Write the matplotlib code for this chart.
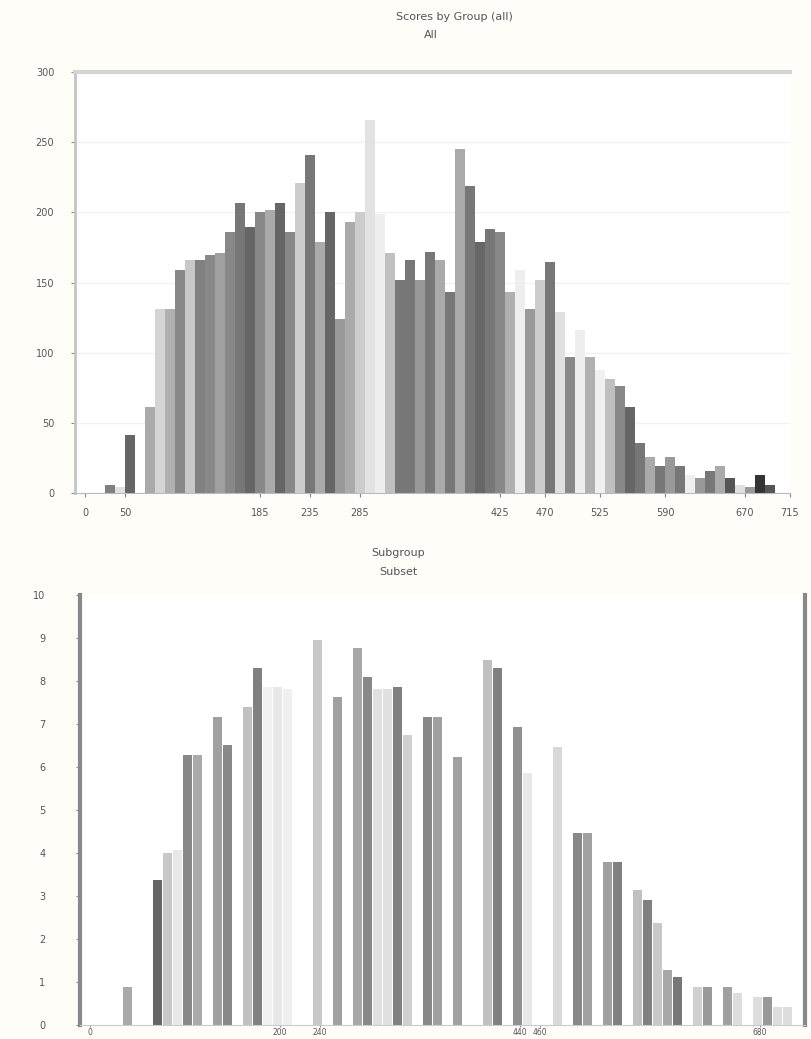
#!/usr/bin/env python3
"""Two stacked grey histograms (overall + subset)."""
import matplotlib
matplotlib.use('Agg')
import matplotlib.pyplot as plt
import numpy as np

plt.rcParams.update({
    'font.size': 8, 'font.family': ['DejaVu Sans'],
    'axes.titlesize': 8, 'xtick.labelsize': 7, 'ytick.labelsize': 7,
})

# ── data: top panel (counts per 10-unit bin, starting at bin 105) ──
top_start = 105
top_counts = [6, 4, 41, 0, 61, 131, 131, 159, 166, 166, 170, 171, 186, 207, 190,
              200, 202, 207, 186, 221, 241, 179, 200, 124, 193, 200, 266, 199,
              171, 152, 166, 152, 172, 166, 143, 245, 219, 179, 188, 186, 143,
              159, 131, 152, 165, 129, 97, 116, 97, 88, 81, 76, 61, 36, 26, 19,
              26, 19, 13, 11, 16, 19, 11, 6, 4, 13, 6]
top_shades = ['#808080', '#e0e0e0', '#666666', '#ffffff', '#aaaaaa', '#d4d4d4',
              '#b0b0b0', '#888888', '#c8c8c8', '#808080', '#888888', '#a0a0a0',
              '#888888', '#777777', '#666666', '#888888', '#aaaaaa', '#666666',
              '#888888', '#cccccc', '#777777', '#aaaaaa', '#666666', '#999999',
              '#aaaaaa', '#cccccc', '#e2e2e2', '#eeeeee', '#c0c0c0', '#777777',
              '#777777', '#999999', '#777777', '#aaaaaa', '#777777', '#aaaaaa',
              '#777777', '#666666', '#777777', '#888888', '#b0b0b0', '#eeeeee',
              '#999999', '#cccccc', '#777777', '#e0e0e0', '#888888', '#eeeeee',
              '#b0b0b0', '#f0f0f0', '#c0c0c0', '#888888', '#666666', '#777777',
              '#aaaaaa', '#777777', '#999999', '#777777', '#eeeeee', '#999999',
              '#777777', '#aaaaaa', '#555555', '#e0e0e0', '#999999', '#333333',
              '#555555']
top_yticks = [0, 50, 100, 150, 200, 250, 300]
top_xticks = [10, 50, 185, 235, 285, 425, 470, 525, 590, 670, 715]
top_xlabels = ['0', '50', '185', '235', '285', '425', '470', '525', '590', '670', '715']

# ── data: bottom panel (counts per bin, starting at bin 123) ──
bot_start = 123
bot_counts = [0.88, 0, 0, 3.37, 4.0, 4.07, 6.28, 6.28, 0, 7.16, 6.51, 0, 7.4, 8.3,
              7.86, 7.86, 7.8, 0, 0, 8.95, 0, 7.63, 0, 8.77, 8.09, 7.8, 7.8, 7.86,
              6.74, 0, 7.16, 7.16, 0, 6.23, 0, 0, 8.49, 8.3, 0, 6.93, 5.86, 0, 0,
              6.47, 0, 4.47, 4.47, 0, 3.79, 3.79, 0, 3.14, 2.9, 2.37, 1.28, 1.12,
              0, 0.88, 0.88, 0, 0.88, 0.74, 0, 0.65, 0.65, 0.42, 0.42]
bot_shades = ['#aaaaaa', '#fff', '#fff', '#666666', '#c8c8c8', '#e8e8e8', '#888888',
              '#aaaaaa', '#fff', '#a0a0a0', '#888888', '#fff', '#c0c0c0', '#808080',
              '#f0f0f0', '#e8e8e8', '#f0f0f0', '#fff', '#fff', '#c8c8c8', '#fff',
              '#a0a0a0', '#fff', '#a8a8a8', '#888888', '#e0e0e0', '#e0e0e0',
              '#808080', '#d0d0d0', '#fff', '#888888', '#a0a0a0', '#fff', '#a0a0a0',
              '#fff', '#fff', '#c0c0c0', '#808080', '#fff', '#909090', '#e8e8e8',
              '#fff', '#fff', '#d8d8d8', '#fff', '#888888', '#a0a0a0', '#fff',
              '#a0a0a0', '#808080', '#fff', '#c0c0c0', '#808080', '#c8c8c8',
              '#a8a8a8', '#777777', '#fff', '#d0d0d0', '#999999', '#fff', '#a0a0a0',
              '#dddddd', '#fff', '#dddddd', '#999999', '#dddddd', '#dddddd']
bot_yticks = list(range(0, 11))
bot_xticks = [10, 200, 240, 440, 460, 680]
bot_xlabels = ['0', '200', '240', '440', '460', '680']

fig = plt.figure(figsize=(8.12, 10.39), dpi=100, facecolor='#fffdf8')

# ═══════════════════════════════════════════════════════════
# Top panel
# ═══════════════════════════════════════════════════════════
ax1 = fig.add_axes([0.0924, 0.5255, 0.8805, 0.405])
x1 = top_start - 75 + 10 * np.arange(len(top_counts))
ax1.bar(x1, top_counts, width=10, align='edge', color=top_shades, linewidth=0)
ax1.set_xlim(0, 715)
ax1.set_ylim(0, 300)
ax1.set_yticks(top_yticks)
ax1.set_xticks(top_xticks)
ax1.set_xticklabels(top_xlabels)
ax1.grid(True, axis='y', color='#f2f2f2', lw=1)
ax1.set_axisbelow(True)
ax1.spines['right'].set_visible(False)
ax1.spines['top'].set_color('#d4d4d4')
ax1.spines['top'].set_linewidth(3)
ax1.spines['left'].set_color('#c4c4c4')
ax1.spines['left'].set_linewidth(2)
ax1.spines['bottom'].set_color('#bbbbbb')
ax1.tick_params(colors='#888888', labelcolor='#555555', length=3)
ax1.tick_params(axis='y', pad=12)
ax1.tick_params(axis='x', pad=8)

fig.text(0.56, 0.984, 'Scores by Group (all)', ha='center', va='center', color='#555555')
fig.text(0.53, 0.966, 'All', ha='center', va='center', color='#555555')

# ═══════════════════════════════════════════════════════════
# Bottom panel
# ═══════════════════════════════════════════════════════════
ax2 = fig.add_axes([0.0985, 0.0135, 0.893, 0.414])
x2 = bot_start - 80 + 10 * np.arange(len(bot_counts))
ax2.bar(x2, bot_counts, width=9, align='edge', color=bot_shades, linewidth=0)
ax2.set_xlim(0, 725)
ax2.set_ylim(0, 10)
ax2.set_yticks(bot_yticks)
ax2.set_xticks(bot_xticks)
ax2.set_xticklabels(bot_xlabels)
ax2.spines['top'].set_visible(False)
ax2.spines['bottom'].set_color('#cccccc')
for s in ['left', 'right']:
    ax2.spines[s].set_color('#888888')
    ax2.spines[s].set_linewidth(3)
ax2.tick_params(colors='#888888', labelcolor='#555555', length=3)
ax2.tick_params(axis='y', pad=22)
ax2.tick_params(axis='x', length=1.5, pad=0.5, labelsize=5.5)

fig.text(0.49, 0.468, 'Subgroup', ha='center', va='center', color='#555555')
fig.text(0.49, 0.449, 'Subset', ha='center', va='center', color='#555555')

fig.savefig('out.png', dpi=100, facecolor=fig.get_facecolor())
print("saved out.png")
